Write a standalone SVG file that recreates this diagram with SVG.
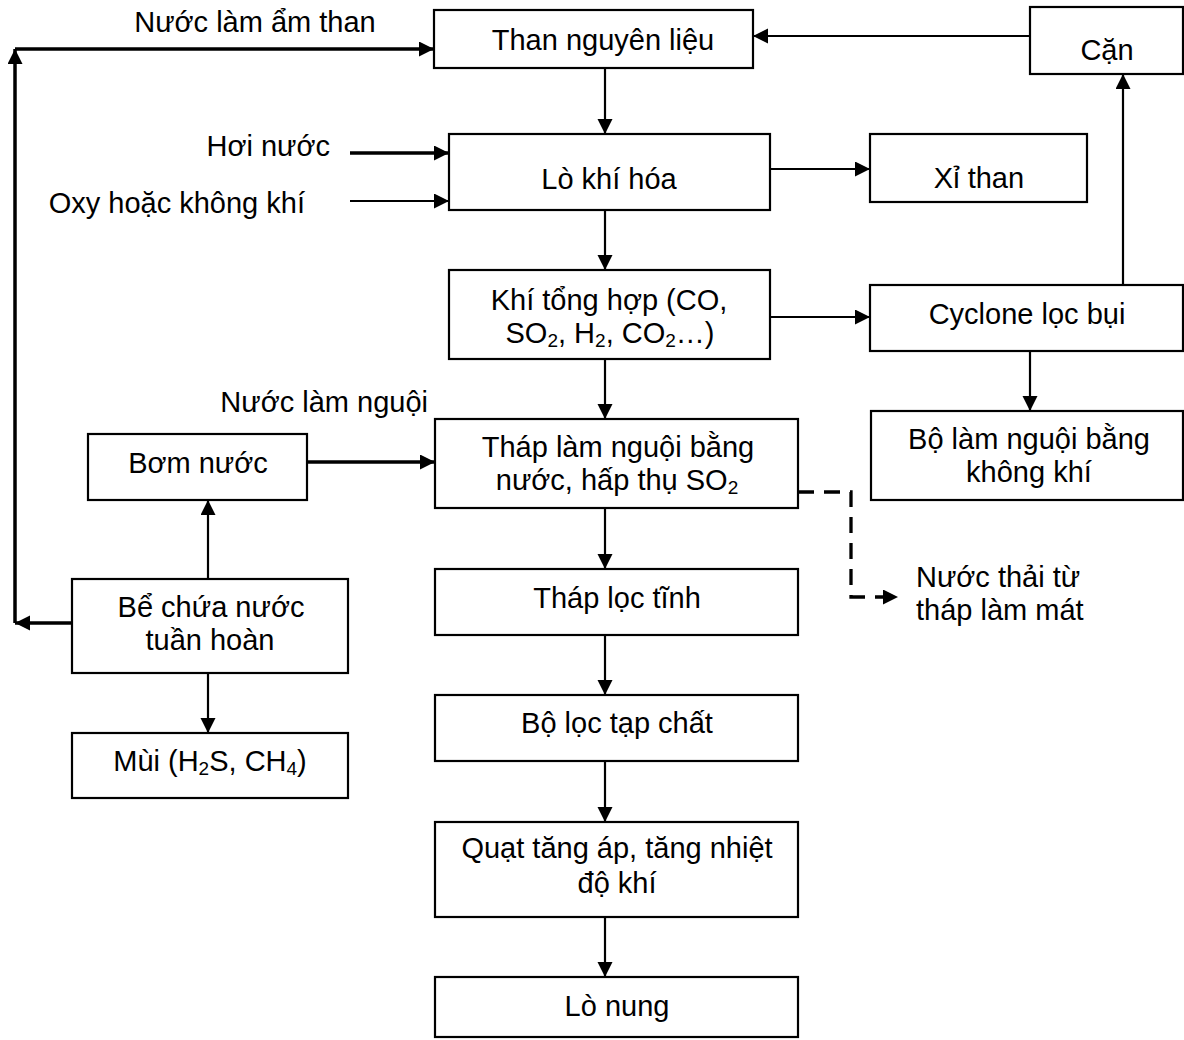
<svg xmlns="http://www.w3.org/2000/svg" width="1184" height="1040" viewBox="0 0 1184 1040">
<style>
.box{fill:#fff;stroke:#000;stroke-width:2.2}
.t{font-family:"Liberation Sans",Arial,sans-serif;font-size:29px;fill:#000;text-anchor:middle}
.ts{font-family:"Liberation Sans",Arial,sans-serif;font-size:29px;fill:#000}
.c{fill:none;stroke:#000;stroke-width:2.2}
.k{fill:none;stroke:#000;stroke-width:3.5}
.d{fill:none;stroke:#000;stroke-width:3.3;stroke-dasharray:16 10}
</style>
<defs>
<marker id="a" markerUnits="userSpaceOnUse" markerWidth="16" markerHeight="16" refX="15" refY="7.5" orient="auto">
<path d="M0,0 L15,7.5 L0,15 z" fill="#000"/>
</marker>
</defs>
<rect width="1184" height="1040" fill="#fff"/>

<g id="than">
<rect class="box" x="434" y="10" width="319" height="58"/>
<text class="t" x="603" y="50">Than nguyên liệu</text>
</g>
<g id="can">
<rect class="box" x="1030" y="7" width="153" height="67"/>
<text class="t" x="1107" y="60">Cặn</text>
</g>
<g id="lo-khi-hoa">
<rect class="box" x="449" y="134" width="321" height="76"/>
<text class="t" x="609" y="189">Lò khí hóa</text>
</g>
<g id="xi-than">
<rect class="box" x="870" y="134" width="217" height="68"/>
<text class="t" x="979" y="188">Xỉ than</text>
</g>
<g id="khi-tong-hop">
<rect class="box" x="449" y="270" width="321" height="89"/>
<text class="t" x="609" y="310">Khí tổng hợp (CO,</text>
<text class="t" x="610" y="343">SO<tspan font-size="19" dy="4">2</tspan><tspan dy="-4">, H</tspan><tspan font-size="19" dy="4">2</tspan><tspan dy="-4">, CO</tspan><tspan font-size="19" dy="4">2</tspan><tspan dy="-4">…)</tspan></text>
</g>
<g id="cyclone">
<rect class="box" x="870" y="285" width="313" height="66"/>
<text class="t" x="1027" y="324">Cyclone lọc bụi</text>
</g>
<g id="bo-lam-nguoi">
<rect class="box" x="871" y="411" width="312" height="89"/>
<text class="t" x="1029" y="449">Bộ làm nguội bằng</text>
<text class="t" x="1029" y="482">không khí</text>
</g>
<g id="thap-lam-nguoi">
<rect class="box" x="435" y="419" width="363" height="89"/>
<text class="t" x="618" y="457">Tháp làm nguội bằng</text>
<text class="t" x="617" y="490">nước, hấp thụ SO<tspan font-size="19" dy="4">2</tspan></text>
</g>
<g id="bom-nuoc">
<rect class="box" x="88" y="434" width="219" height="66"/>
<text class="t" x="198" y="473">Bơm nước</text>
</g>
<g id="be-chua">
<rect class="box" x="72" y="579" width="276" height="94"/>
<text class="t" x="211" y="617">Bể chứa nước</text>
<text class="t" x="210" y="650">tuần hoàn</text>
</g>
<g id="mui">
<rect class="box" x="72" y="733" width="276" height="65"/>
<text class="t" x="210" y="771">Mùi (H<tspan font-size="19" dy="4">2</tspan><tspan dy="-4">S, CH</tspan><tspan font-size="19" dy="4">4</tspan><tspan dy="-4">)</tspan></text>
</g>
<g id="thap-loc-tinh">
<rect class="box" x="435" y="569" width="363" height="66"/>
<text class="t" x="617" y="608">Tháp lọc tĩnh</text>
</g>
<g id="bo-loc">
<rect class="box" x="435" y="695" width="363" height="66"/>
<text class="t" x="617" y="733">Bộ lọc tạp chất</text>
</g>
<g id="quat">
<rect class="box" x="435" y="822" width="363" height="95"/>
<text class="t" x="617" y="858">Quạt tăng áp, tăng nhiệt</text>
<text class="t" x="617" y="893">độ khí</text>
</g>
<g id="lo-nung">
<rect class="box" x="435" y="977" width="363" height="60"/>
<text class="t" x="617" y="1016">Lò nung</text>
</g>

<g id="labels">
<text class="t" x="255" y="32">Nước làm ẩm than</text>
<text class="ts" x="330" y="156" text-anchor="end">Hơi nước</text>
<text class="ts" x="305" y="213" text-anchor="end">Oxy hoặc không khí</text>
<text class="ts" x="428" y="412" text-anchor="end">Nước làm nguội</text>
<text class="ts" x="916" y="587">Nước thải từ</text>
<text class="ts" x="916" y="620">tháp làm mát</text>
</g>

<g id="connectors">
<path class="c" d="M1030,36 H753" marker-end="url(#a)"/>
<path class="c" d="M605,68 V134" marker-end="url(#a)"/>
<path class="k" d="M350,153 H449" marker-end="url(#a)"/>
<path class="c" d="M350,201 H449" marker-end="url(#a)"/>
<path class="c" d="M770,169 H870" marker-end="url(#a)"/>
<path class="c" d="M605,210 V270" marker-end="url(#a)"/>
<path class="c" d="M770,317 H870" marker-end="url(#a)"/>
<path class="c" d="M1123,285 V74" marker-end="url(#a)"/>
<path class="c" d="M1030,351 V411" marker-end="url(#a)"/>
<path class="c" d="M605,359 V419" marker-end="url(#a)"/>
<path class="k" d="M307,462 H435" marker-end="url(#a)"/>
<path class="c" d="M208,579 V500" marker-end="url(#a)"/>
<path class="c" d="M208,673 V733" marker-end="url(#a)"/>
<path class="k" d="M72,623 H15" marker-end="url(#a)"/>
<path class="k" d="M15,623 V49" marker-end="url(#a)"/>
<path class="k" d="M15,49 H434" marker-end="url(#a)"/>
<path class="d" d="M798,492 H851 V597 H898" marker-end="url(#a)"/>
<path class="c" d="M605,508 V569" marker-end="url(#a)"/>
<path class="c" d="M605,635 V695" marker-end="url(#a)"/>
<path class="c" d="M605,761 V822" marker-end="url(#a)"/>
<path class="c" d="M605,917 V977" marker-end="url(#a)"/>
</g>
</svg>
